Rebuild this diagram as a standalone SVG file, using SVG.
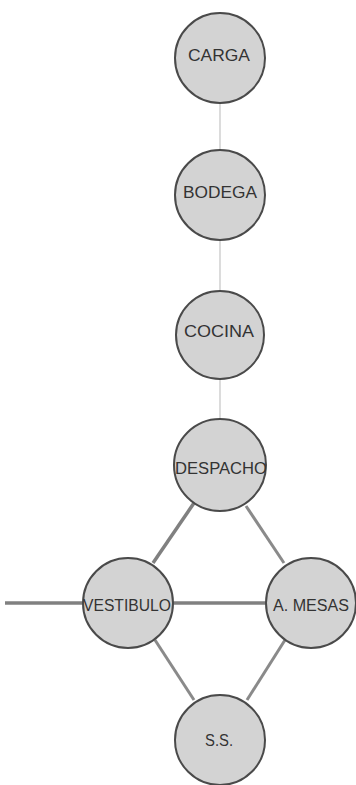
<svg xmlns="http://www.w3.org/2000/svg" width="356" height="785" viewBox="0 0 356 785">
<style>
.n circle{fill:#d3d3d3;stroke:#4a4a4a;stroke-width:2}
.n text{font-family:"Liberation Sans","DejaVu Sans",sans-serif;font-size:16px;fill:#333333;text-anchor:middle}
.thin{stroke:#c4c4c4;stroke-width:1.2;fill:none}
.mid{stroke:#8a8a8a;stroke-width:3;fill:none}
.thick{stroke:#808080;stroke-width:3.5;fill:none}
</style>
<rect width="356" height="785" fill="#ffffff"/>
<g id="connectors">
<line class="thin" x1="220" y1="103" x2="220" y2="150"/>
<line class="thin" x1="220" y1="240" x2="220" y2="290"/>
<line class="thin" x1="220" y1="380" x2="220" y2="420"/>
<line class="thick" x1="194" y1="503" x2="153" y2="563"/>
<line class="mid" x1="246" y1="506" x2="284" y2="563"/>
<line class="thick" x1="5" y1="603" x2="83" y2="603"/>
<line class="thick" x1="173" y1="603" x2="266" y2="603"/>
<line class="mid" x1="155" y1="640" x2="194" y2="700"/>
<line class="mid" x1="285" y1="640" x2="247" y2="700"/>
</g>
<g id="carga" class="n"><circle cx="220" cy="58" r="45"/><text x="219" y="61" textLength="62" lengthAdjust="spacingAndGlyphs">CARGA</text></g>
<g id="bodega" class="n"><circle cx="220" cy="195" r="45"/><text x="220" y="198" textLength="74" lengthAdjust="spacingAndGlyphs">BODEGA</text></g>
<g id="cocina" class="n"><circle cx="220" cy="335" r="44"/><text x="219" y="337" textLength="70" lengthAdjust="spacingAndGlyphs">COCINA</text></g>
<g id="despacho" class="n"><circle cx="220" cy="465" r="46"/><text x="221" y="474" textLength="92" lengthAdjust="spacingAndGlyphs">DESPACHO</text></g>
<g id="vestibulo" class="n"><circle cx="128" cy="603" r="45"/><text x="127" y="611" textLength="88" lengthAdjust="spacingAndGlyphs">VESTIBULO</text></g>
<g id="amesas" class="n"><circle cx="311" cy="603" r="45"/><text x="311" y="611" textLength="76" lengthAdjust="spacingAndGlyphs">A. MESAS</text></g>
<g id="ss" class="n"><circle cx="220" cy="740" r="45"/><text x="219" y="746" textLength="28" lengthAdjust="spacingAndGlyphs">S.S.</text></g>
</svg>
